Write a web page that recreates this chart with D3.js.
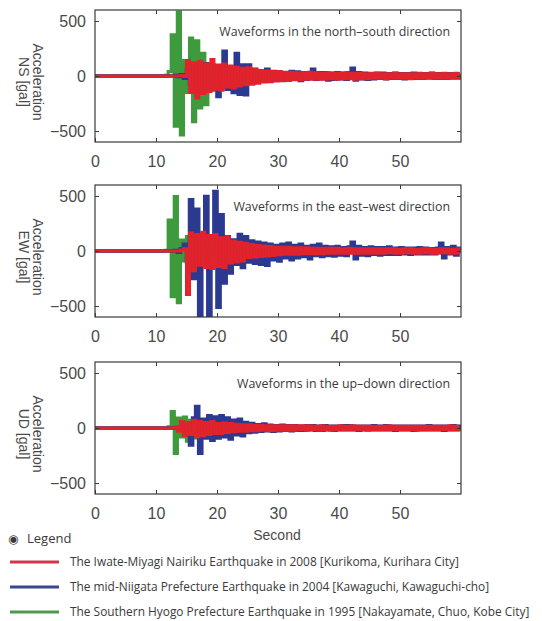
<!DOCTYPE html>
<html><head><meta charset="utf-8">
<script src="https://cdn.jsdelivr.net/npm/d3@7"></script>
<style>body{margin:0;background:#fff}</style>
</head><body><svg id="c" width="542" height="621"></svg>
<script>
// ---- data ----
const T_START = 11, T_STEP = 0.5;      // seconds: samples below start at 11 s, every 0.5 s
const xTicks = [0, 10, 20, 30, 40, 50];
const yTicks = [-500, 0, 500];
const components = ["NS", "EW", "UD"];
const notes = ["Waveforms in the north\u2013south direction",
               "Waveforms in the east\u2013west direction",
               "Waveforms in the up\u2013down direction"];
const quakes = ["The Iwate-Miyagi Nairiku Earthquake in 2008 [Kurikoma, Kurihara City]",
                "The mid-Niigata Prefecture Earthquake in 2004 [Kawaguchi, Kawaguchi-cho]",
                "The Southern Hyogo Prefecture Earthquake in 1995 [Nakayamate, Chuo, Kobe City]"];

const NS_green = [
0,5,40,375,-455,580,-535,140,-150,345,
-415,320,-290,205,-260,110,-130,90,-100,80,
-90,70,-75,60,-60,50,-55,45,-40,35,
-35,30,-30,35,-25,25,-30,20,-25,20,
-20,25,-20,20,-15,20,-20,15,-15,20,
-15,15,-15,10,-15,15,-10,15,-10,10,
-10,15,-10,10,-10,10,-10,10,-10,10,
-10,10,-8,10,-8,8,-8,10,-8,8,
-8,8,-8,8,-6,8,-6,6,-6,6,
-6,6,-6,6,-5,5,-5,5];
const NS_blue = [
0,0,0,0,5,-5,10,-20,60,-80,
100,-120,90,-100,110,-120,100,80,-185,90,
225,-120,60,-150,205,-165,100,-170,100,-70,
60,-50,45,-40,60,-50,40,-35,35,-40,
30,-35,40,-30,35,-40,30,-30,25,60,
-30,30,-25,30,-35,25,-30,30,-25,25,
-30,30,70,-35,30,-25,25,-30,20,-25,
25,-20,25,-25,20,-20,25,-20,20,-25,
20,-20,25,-20,20,-20,20,-15,25,-20,
20,-20,15,-20,20,-15,20,-15];
const NS_red = [
0,0,0,0,0,0,5,-5,140,-150,
120,-200,135,-160,110,-140,150,-120,100,-130,
110,-100,90,-110,80,-90,70,-80,75,-70,
60,-65,50,-55,45,-50,40,-45,40,-40,
35,-40,35,-35,30,-35,30,-30,35,-30,
30,-30,25,-30,30,-25,25,-30,25,-25,
30,-25,25,-30,25,-25,20,-25,25,-20,
25,-20,20,-25,20,-20,25,-20,20,-20,
20,-25,20,-20,25,-20,20,-20,25,-20,
20,-20,25,-20,20,-20,25,-20];

const EW_green = [
0,5,280,-415,495,-470,100,-90,130,-200,
60,-120,70,-60,50,-50,40,-40,35,-35,
30,-30,30,-25,25,-25,20,-20,20,-20,
20,-20,15,-15,15,-15,15,-15,10,-10,
10,-10,10,-10,10,-10,10,-10,10,-10,
8,-8,8,-8,8,-8,8,-8,8,-8,
8,-8,6,-6,6,-6,6,-6,6,-6,
6,-6,6,-6,5,-5,5,-5,5,-5,
5,-5,5,-5,5,-5,5,-5,5,-5,
5,-5,5,-5,5,-5,5,-5];
const EW_blue = [
0,0,0,0,5,-10,20,60,-100,465,
-250,380,-610,150,495,-610,100,540,-510,330,
-290,130,-200,100,-120,150,-150,130,-100,90,
-110,80,-120,70,-130,60,-80,50,-90,60,
-60,70,-80,50,-60,60,-50,40,-70,50,
-40,60,-50,40,-40,35,-45,40,-35,30,
-40,35,80,-70,40,-35,30,-40,35,-30,
30,-35,30,-30,35,-30,25,-30,30,-25,
25,-30,25,-25,30,-25,25,-25,20,-25,
25,70,-60,30,-25,40,-35,25];
const EW_red = [
0,0,0,0,0,0,10,20,-395,165,
-180,150,-130,170,-150,140,-160,150,-140,120,
-150,130,-110,90,-100,80,-90,70,-60,60,
-55,50,-50,45,-45,40,-40,35,-35,35,
-30,35,-30,30,-30,30,-25,30,-25,25,
-25,25,-25,25,-20,25,-20,25,-20,20,
-20,25,-20,20,-20,20,-20,20,-20,20,
-20,20,-20,20,-15,20,-20,15,-20,20,
-15,20,-20,15,-20,20,-15,20,-20,15,
-20,20,-15,20,-20,15,-20,20];

const UD_green = [
0,0,10,150,-230,90,-80,100,-120,70,
-90,60,-50,40,-40,30,-30,25,-25,20,
-20,15,-15,15,-15,10,-10,10,-10,10,
-10,8,-8,8,-8,8,-8,6,-6,6,
-6,6,-6,6,-5,5,-5,5,-5,5,
-5,5,-5,5,-5,5,-5,5,-5,5,
-5,5,-5,5,-5,5,-5,5,-5,5,
-5,5,-5,5,-5,5,-5,5,-5,5,
-5,5,-5,5,-5,5,-5,5,-5,5,
-5,5,-5,5,-5,5,-5,5];
const UD_blue = [
0,0,0,0,0,5,-10,20,-60,-155,
90,195,-230,80,-90,110,-110,100,-90,110,
-80,90,-100,70,-60,80,-70,50,-40,40,
-35,30,-30,35,-25,25,-30,20,-25,25,
-20,20,-25,20,-20,15,-20,20,-15,20,
-20,15,-20,20,-15,15,-20,15,-15,20,
-15,20,-15,15,-20,15,-15,15,-15,20,
-15,15,-15,20,-15,15,-20,15,-15,15,
-15,15,-20,15,-15,15,-15,20,-15,15,
-15,15,-20,15,-15,20,-15,15];
const UD_red = [
0,0,0,0,10,-30,60,-70,50,-60,
70,-80,60,-70,50,-60,60,-50,40,-50,
45,-40,40,-35,35,-30,30,-30,30,-25,
25,-25,25,-20,20,-25,20,-20,20,-20,
20,-20,20,-20,20,-15,20,-20,20,-15,
15,-20,20,-15,15,-20,15,-15,20,-15,
15,-15,20,-15,15,-15,15,-20,15,-15,
15,-15,15,-15,20,-15,15,-15,15,-15,
15,-15,15,-20,15,-15,15,-15,15,-15,
15,-15,15,-15,20,-15,15,-15];

const panelSeries = [
  [NS_green, NS_blue, NS_red],
  [EW_green, EW_blue, EW_red],
  [UD_green, UD_blue, UD_red]
];

// ---- styles / layout ----
const seriesColors = ["#3d9b3d", "#2b3990", "#e3232c"]; // green, blue, red (draw order)
const seriesWidths = [3.2, 3.6, 3.0];
const legendColors = ["#d0384a", "#3c4790", "#4f9a4f"];
const panelTops = [10, 185, 362];
const panelH = 132;
const fontAx = "'Liberation Sans', Arial, sans-serif";
const fontTx = "'Open Sans', 'Noto Sans', sans-serif";

const svg = d3.select("#c");
const x = d3.scaleLinear().domain([0, 60]).range([95, 461]);

panelTops.forEach((top, p) => {
  const y = d3.scaleLinear().domain([-600, 600]).range([top + panelH, top]);
  const g = svg.append("g");
  const clipId = "clip" + p;
  svg.append("clipPath").attr("id", clipId).append("rect")
    .attr("x", x(0)).attr("y", y(600)).attr("width", x(60) - x(0)).attr("height", y(-600) - y(600));

  const line = d3.line().x(d => x(d[0])).y(d => y(d[1])).curve(d3.curveStepAfter);
  const lg = g.append("g").attr("clip-path", `url(#${clipId})`);
  panelSeries[p].forEach((vals, s) => {
    const pts = [[0, 0]].concat(vals.map((v, i) => [T_START + i * T_STEP, v]));
    pts.push([60, vals[vals.length - 1]]);
    lg.append("path").datum(pts).attr("d", line)
      .attr("fill", "none").attr("stroke", seriesColors[s])
      .attr("stroke-width", seriesWidths[s]).attr("stroke-linejoin", "miter");
  });

  // frame
  g.append("rect").attr("x", x(0)).attr("y", y(600))
    .attr("width", x(60) - x(0)).attr("height", y(-600) - y(600))
    .attr("fill", "none").attr("stroke", "#3a3a3a").attr("stroke-width", 1.2);

  // axes with inward ticks
  const ax = g.append("g").attr("font-family", fontAx);
  ax.append("g").attr("transform", `translate(0,${y(-600)})`)
    .call(d3.axisBottom(x).tickValues(xTicks).tickSize(-4).tickPadding(10))
    .call(a => a.select(".domain").remove())
    .call(a => a.selectAll("text").attr("font-size", 16).attr("fill", "#4a4a4a").attr("dy", "0.95em"))
    .call(a => a.selectAll("line").attr("stroke", "#3a3a3a"));
  ax.append("g").attr("transform", `translate(0,${y(600)})`)
    .call(d3.axisTop(x).tickValues(xTicks.slice(1)).tickSize(-4).tickFormat(""))
    .call(a => a.select(".domain").remove())
    .call(a => a.selectAll("line").attr("stroke", "#3a3a3a"));
  ax.append("g").attr("transform", `translate(${x(0)},0)`)
    .call(d3.axisLeft(y).tickValues(yTicks).tickSize(-4).tickPadding(9))
    .call(a => a.select(".domain").remove())
    .call(a => a.selectAll("text").attr("font-size", 16).attr("fill", "#4a4a4a"))
    .call(a => a.selectAll("line").attr("stroke", "#3a3a3a"));
  ax.append("g").attr("transform", `translate(${x(60)},0)`)
    .call(d3.axisRight(y).tickValues(yTicks).tickSize(-4).tickFormat(""))
    .call(a => a.select(".domain").remove())
    .call(a => a.selectAll("line").attr("stroke", "#3a3a3a"));

  // note
  g.append("text").attr("x", 450).attr("y", y(600) + 26).attr("text-anchor", "end")
    .attr("font-family", fontTx).attr("font-size", 12.4).attr("fill", "#3a3a3a")
    .text(notes[p]);

  // y label (rotated, reading downwards)
  const cy = y(0) + 6;
  g.append("text").attr("transform", `translate(33,${cy}) rotate(90)`)
    .attr("text-anchor", "middle").attr("font-family", fontAx).attr("font-size", 14)
    .attr("fill", "#4a4a4a").text("Acceleration");
  g.append("text").attr("transform", `translate(19,${cy}) rotate(90)`)
    .attr("text-anchor", "middle").attr("font-family", fontAx).attr("font-size", 14)
    .attr("fill", "#4a4a4a").text(components[p] + " [gal]");
});

// x title
svg.append("text").attr("x", 277).attr("y", 540).attr("text-anchor", "middle")
  .attr("font-family", fontAx).attr("font-size", 14).attr("fill", "#4a4a4a").text("Second");

// legend
svg.append("text").attr("x", 8).attr("y", 543).attr("font-family", "'DejaVu Sans', sans-serif")
  .attr("font-size", 12).attr("fill", "#3a3a3a").text("\u25C9");
svg.append("text").attr("x", 27).attr("y", 543).attr("font-family", fontTx)
  .attr("font-size", 13).attr("fill", "#3a3a3a").text("Legend");
const legendY = d3.scalePoint().domain(quakes).range([562, 612]);
quakes.forEach((q, i) => {
  const yy = legendY(q);
  svg.append("line").attr("x1", 10).attr("x2", 59).attr("y1", yy).attr("y2", yy)
    .attr("stroke", legendColors[i]).attr("stroke-width", 3);
  svg.append("text").attr("x", 70).attr("y", yy + 4).attr("font-family", fontTx)
    .attr("font-size", 11.9).attr("fill", "#3a3a3a").text(q);
});
</script></body></html>
